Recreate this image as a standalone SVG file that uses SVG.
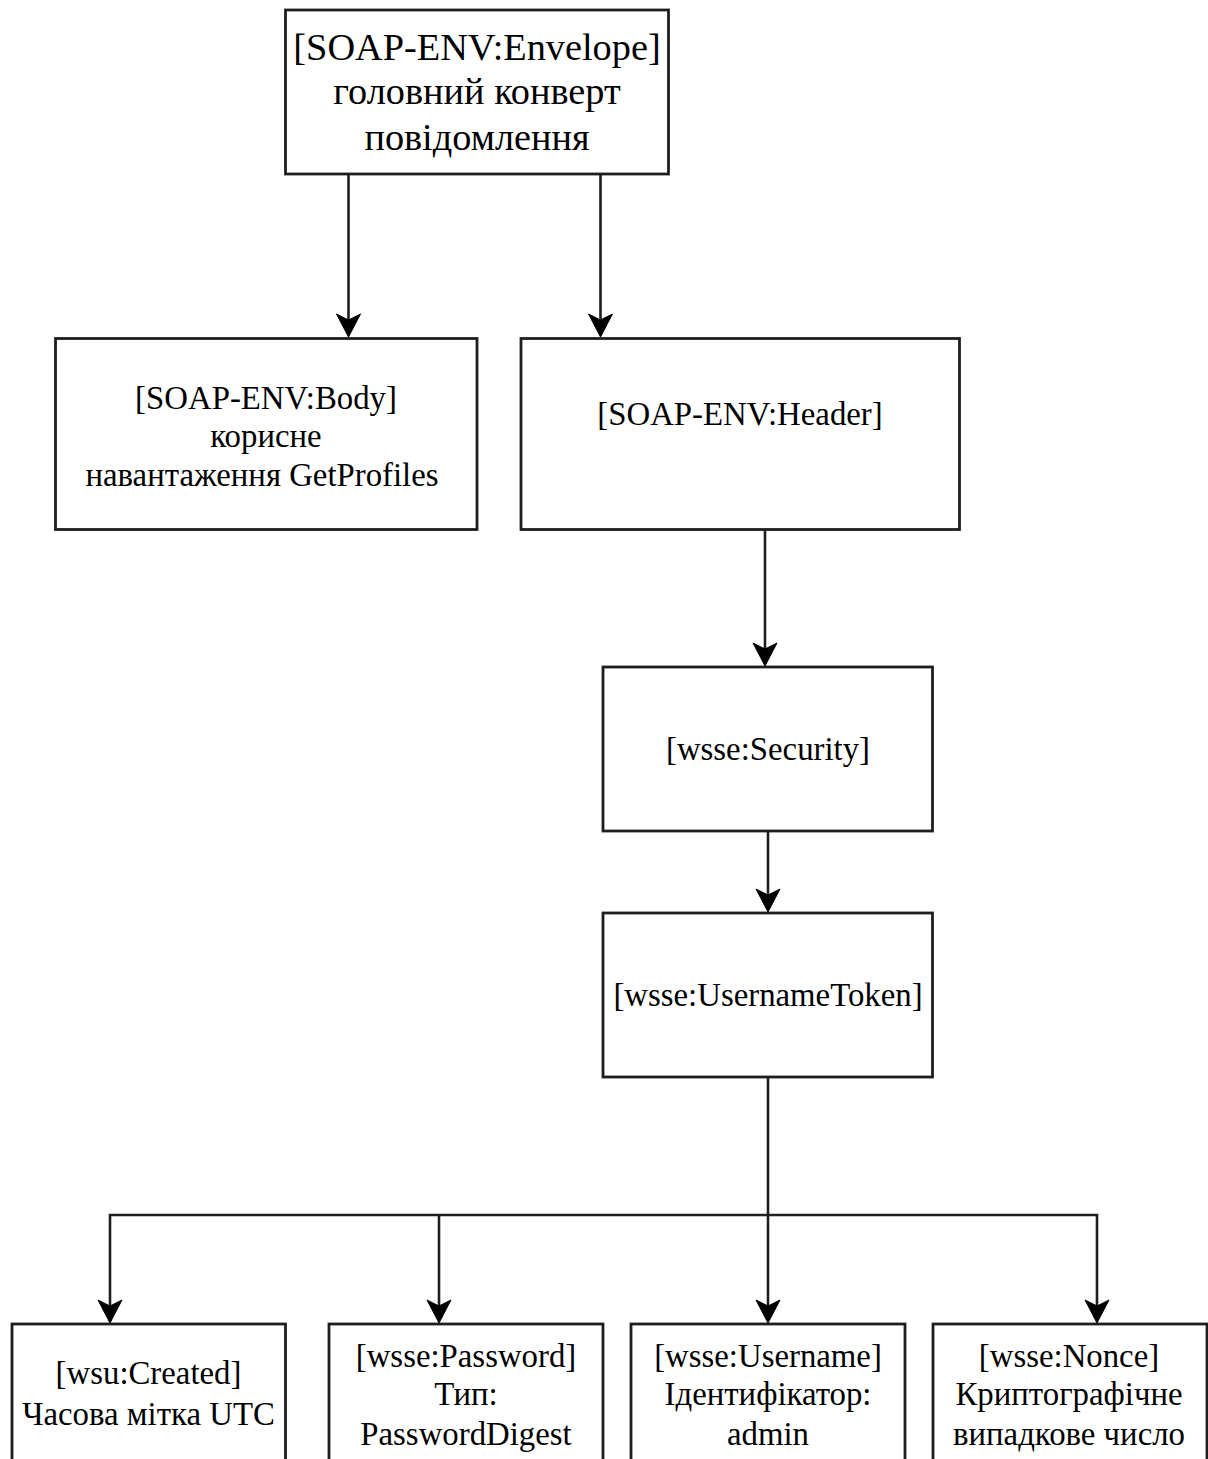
<svg xmlns="http://www.w3.org/2000/svg" width="1208" height="1459" viewBox="0 0 1208 1459">
  <style>
    .box { fill: #ffffff; stroke: #1e1e1e; stroke-width: 2.8; }
    .lbl { font-family: "Liberation Serif", "Times New Roman", serif; fill: #000000; text-anchor: middle; font-size: 32.8px; }
    .big { font-size: 38.3px; }
    .edge { fill: none; stroke: #1e1e1e; stroke-width: 2.6; }
    .head { fill: #000000; stroke: #000000; stroke-width: 1; stroke-linejoin: miter; }
  </style>
  <defs>
    <!-- notched arrowhead pointing down, tip at origin -->
    <path id="tip" class="head" d="M0,0 L-12,-23 L0,-17 L12,-23 Z"/>
  </defs>
  <rect width="1208" height="1459" fill="#ffffff"/>

  <!-- connectors -->
  <g id="connectors">
    <path class="edge" d="M348.5,174 V325"/>
    <use href="#tip" x="348.5" y="337"/>
    <path class="edge" d="M600.5,174 V325"/>
    <use href="#tip" x="600.5" y="337"/>
    <path class="edge" d="M765,530 V654"/>
    <use href="#tip" x="765" y="666"/>
    <path class="edge" d="M768,831 V900"/>
    <use href="#tip" x="768" y="912"/>
    <path class="edge" d="M768,1077 V1311"/>
    <path class="edge" d="M110,1311 V1215 H1097 V1311"/>
    <path class="edge" d="M439,1215 V1311"/>
    <use href="#tip" x="110" y="1323"/>
    <use href="#tip" x="439" y="1323"/>
    <use href="#tip" x="768" y="1323"/>
    <use href="#tip" x="1097" y="1323"/>
  </g>

  <g id="envelope">
    <rect class="box" x="285.5" y="10" width="383" height="164"/>
    <text class="lbl big" x="477" y="60">[SOAP-ENV:Envelope]</text>
    <text class="lbl big" x="477" y="104">головний конверт</text>
    <text class="lbl big" x="477" y="150">повідомлення</text>
  </g>

  <g id="body">
    <rect class="box" x="55.5" y="338.5" width="421.5" height="191"/>
    <text class="lbl" x="266" y="409">[SOAP-ENV:Body]</text>
    <text class="lbl" x="266" y="447">корисне</text>
    <text class="lbl" x="262" y="486">навантаження GetProfiles</text>
  </g>

  <g id="header">
    <rect class="box" x="521" y="338.5" width="438.5" height="191"/>
    <text class="lbl" x="740" y="425">[SOAP-ENV:Header]</text>
  </g>

  <g id="security">
    <rect class="box" x="603" y="667" width="329.5" height="164"/>
    <text class="lbl" x="768" y="760">[wsse:Security]</text>
  </g>

  <g id="usernametoken">
    <rect class="box" x="603" y="913" width="329.5" height="164"/>
    <text class="lbl" x="768" y="1006">[wsse:UsernameToken]</text>
  </g>

  <g id="created">
    <rect class="box" x="12" y="1324" width="273.5" height="160"/>
    <text class="lbl" x="148.5" y="1384">[wsu:Created]</text>
    <text class="lbl" x="148.5" y="1425">Часова мітка UTC</text>
  </g>

  <g id="password">
    <rect class="box" x="329" y="1324" width="274" height="160"/>
    <text class="lbl" x="466" y="1367">[wsse:Password]</text>
    <text class="lbl" x="466" y="1405">Тип:</text>
    <text class="lbl" x="466" y="1445">PasswordDigest</text>
  </g>

  <g id="username">
    <rect class="box" x="631" y="1324" width="274" height="160"/>
    <text class="lbl" x="768" y="1367">[wsse:Username]</text>
    <text class="lbl" x="768" y="1405">Ідентифікатор:</text>
    <text class="lbl" x="768" y="1445">admin</text>
  </g>

  <g id="nonce">
    <rect class="box" x="933" y="1324" width="274" height="160"/>
    <text class="lbl" x="1069" y="1367">[wsse:Nonce]</text>
    <text class="lbl" x="1069" y="1405">Криптографічне</text>
    <text class="lbl" x="1069" y="1445">випадкове число</text>
  </g>
</svg>
